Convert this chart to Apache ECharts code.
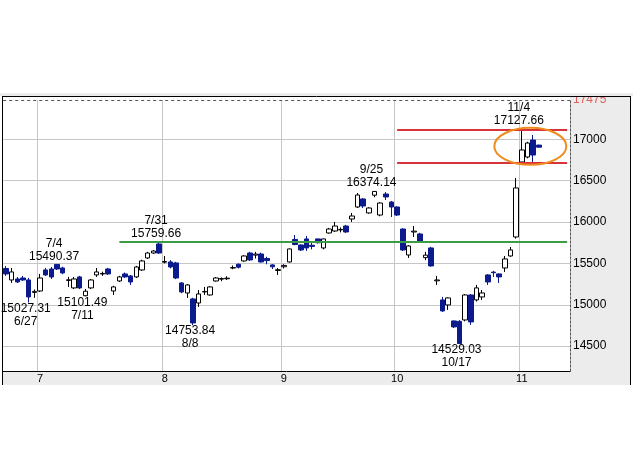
<!DOCTYPE html>
<html>
<head>
<meta charset="utf-8">
<script src="https://cdn.jsdelivr.net/npm/echarts@6/dist/echarts.min.js"></script>
<style>
  html, body { margin: 0; padding: 0; background: #fff; }
  #chart { width: 633px; height: 461px; }
</style>
</head>
<body>
<div id="chart"></div>
<script>
  // trading days (last five are empty slots on the right)
  var dates = [
    '6/23','6/24','6/25','6/26','6/27','6/30',
    '7/1','7/2','7/3','7/4','7/7','7/8','7/9','7/10','7/11','7/14','7/15','7/16','7/17','7/18','7/22','7/23','7/24','7/25','7/28','7/29','7/30','7/31',
    '8/1','8/4','8/5','8/6','8/7','8/8','8/11','8/12','8/13','8/14','8/15','8/18','8/19','8/20','8/21','8/22','8/25','8/26','8/27','8/28','8/29',
    '9/1','9/2','9/3','9/4','9/5','9/8','9/9','9/10','9/11','9/12','9/16','9/17','9/18','9/19','9/22','9/24','9/25','9/26','9/29','9/30',
    '10/1','10/2','10/3','10/6','10/7','10/8','10/9','10/10','10/14','10/15','10/16','10/17','10/20','10/21','10/22','10/23','10/24','10/27','10/28','10/29','10/30','10/31',
    '11/4','11/5','11/6','11/7','11/10','11/11','11/12','11/13','11/14'
  ];

  var opens = [
    15439,15300,15312,15324,15300,15150,
    15167,15421,15433,15488,15445,15295,15204,15337,15110,15204,15361,15372,15433,15167,15288,15373,15349,15337,15421,15566,15626,15735,
    15515,15518,15506,15264,15143,15071,15022,15155,15119,15288,15310,15315,15445,15490,15530,15626,15600,15614,15560,15482,15415,
    15460,15518,15790,15723,15796,15720,15796,15687,15868,15892,15905,15952,16037,16182,16279,16110,16325,16085,16339,16242,
    16182,15916,15602,15880,15856,15570,15687,15290,15059,14998,14805,14800,14817,15119,15059,15095,15361,15395,15373,15445,15590,15820,
    16726,16786,16991,16930
  ];
  var closes = [
    15373,15397,15276,15300,15095,15162,
    15324,15361,15336,15433,15385,15302,15312,15204,15164,15300,15397,15379,15373,15216,15337,15337,15276,15457,15530,15626,15650,15626,
    15523,15457,15324,15155,15240,14781,15131,15161,15216,15324,15318,15322,15449,15454,15590,15542,15613,15518,15534,15459,15424,
    15476,15675,15728,15663,15687,15705,15750,15796,15916,15952,15911,15880,16073,16327,16194,16170,16370,16230,16303,16182,
    16085,15663,15711,15890,15771,15600,15470,15300,14926,15083,14733,14532,15119,14793,15204,15143,15276,15388,15337,15554,15663,16412,
    16871,16955,16810,16905
  ];
  var lows = [
    15349,15264,15264,15288,15027.31,15085,
    15155,15349,15312,15421,15370,15216,15191,15190,15101.49,15191,15337,15350,15360,15119,15275,15325,15240,15325,15410,15555,15615,15615,
    15500,15440,15310,15140,15083,14753.84,14974,15119,15110,15280,15285,15300,15430,15440,15520,15530,15560,15510,15490,15433,15361,
    15440,15510,15720,15650,15651,15670,15740,15670,15860,15880,15875,15870,16001,16170,16170,16100,16300,16070,16267,16061,
    16073,15650,15566,15820,15760,15540,15460,15240,14914,14938,14720,14529.03,14800,14757,15040,15059,15240,15337,15264,15397,15580,15800,
    16714,16770,16726,16900
  ];
  var highs = [
    15469,15445,15336,15349,15324,15185,
    15373,15445,15457,15490.37,15460,15337,15337,15350,15191,15312,15445,15400,15445,15230,15350,15390,15360,15470,15545,15640,15660,15759.66,
    15590,15540,15520,15275,15250,15085,15179,15216,15225,15335,15330,15345,15475,15500,15600,15640,15640,15630,15580,15490,15445,
    15490,15680,15844,15730,15832,15770,15800,15800,15930,16001,15935,15965,16110,16351,16290,16180,16374.14,16240,16363,16255,
    16190,15925,15720,15952,15870,15640,15700,15349,15095,15090,14810,14815,15130,15130,15240,15179,15370,15410,15380,15590,15699,16533,
    17127.66,16970,17052,16935
  ];

  // y axis
  var gridLevels = [14500, 15000, 15500, 16000, 16500, 17000];
  var topLevel = 17475;
  var axisMin = 14200;

  // annotations
  var highMarks = [['7/4', 15490.37], ['7/31', 15759.66], ['9/25', 16374.14], ['11/4', 17127.66]];
  var lowMarks = [['6/27', 15027.31], ['7/11', 15101.49], ['8/8', 14753.84], ['10/17', 14529.03]];
  var greenLevel = 15759.66, greenFrom = '7/22';
  var redLevels = [17120, 16720], redFrom = '10/1';
  var ringDates = ['11/4', '11/7'], ringValue = 16915;

  var FONT = "'Liberation Sans', Arial, sans-serif";
  var NAVY = '#0b1a8c';

  function monthOf(d) { return d.split('/')[0]; }
  function isMonthStart(i) { return i > 0 && monthOf(dates[i]) !== monthOf(dates[i - 1]); }

  var ohlc = dates.map(function (d, i) {
    return i < opens.length ? [opens[i], closes[i], lows[i], highs[i]] : '-';
  });
  var lastDate = dates[dates.length - 1];

  var marks = highMarks.map(function (m) {
    return { coord: m, label: { position: 'top', distance: 1, formatter: m[0] + '\n' + m[1].toFixed(2) } };
  }).concat(lowMarks.map(function (m) {
    return { coord: m, label: { position: 'bottom', distance: -1, formatter: m[1].toFixed(2) + '\n' + m[0] } };
  }));

  var lines = [
    [{ coord: [greenFrom, greenLevel], lineStyle: { color: '#3c9c46', width: 2, type: 'solid' } }, { coord: [lastDate, greenLevel] }]
  ];
  redLevels.forEach(function (v) {
    lines.push([{ coord: [redFrom, v], lineStyle: { color: '#d8333a', width: 2, type: 'solid' } }, { coord: [lastDate, v] }]);
  });
  lines.push({ yAxis: topLevel, lineStyle: { color: '#555', type: [3, 3], width: 1 } });

  var chart = echarts.init(document.getElementById('chart'));
  chart.setOption({
    animation: false,
    grid: { left: 3.2, right: 63, top: 100, bottom: 90 },
    xAxis: {
      type: 'category',
      data: dates,
      boundaryGap: true,
      axisLine: { lineStyle: { color: '#000', width: 1 } },
      axisTick: { show: false },
      axisLabel: {
        interval: function (i) { return isMonthStart(i); },
        formatter: function (v) { return monthOf(v); },
        color: '#000', fontSize: 11, fontFamily: FONT, margin: 2
      },
      splitLine: {
        show: true,
        interval: function (i) { return isMonthStart(i); },
        lineStyle: { color: '#c6c6c6', width: 1 }
      }
    },
    yAxis: {
      type: 'value',
      position: 'right',
      min: axisMin,
      max: topLevel,
      axisLine: { show: true, lineStyle: { color: '#555', type: [2, 2] } },
      axisTick: { show: false, customValues: gridLevels },
      axisLabel: {
        customValues: gridLevels.concat([topLevel]),
        formatter: function (v) { return String(v); },
        color: function (v) { return Number(v) === topLevel ? '#e0605a' : '#000'; },
        fontSize: 12, fontFamily: FONT, margin: 3
      },
      splitLine: { show: true, lineStyle: { color: '#c6c6c6', width: 1 } }
    },
    graphic: [
      { id: 'panelR', type: 'rect', z: -5, shape: { x: 570, y: 96, width: 61, height: 276 }, style: { fill: '#ececec' } },
      { id: 'panelB', type: 'rect', z: -5, shape: { x: 2, y: 372, width: 629, height: 13 }, style: { fill: '#ececec' } },
      { id: 'coverT', type: 'rect', z: 100, shape: { x: 0, y: 0, width: 633, height: 93 }, style: { fill: '#fff' } },
      { id: 'stripT', type: 'rect', z: 100, shape: { x: 0, y: 93, width: 633, height: 3 }, style: { fill: '#ececec' } },
      { id: 'lineT', type: 'line', z: 100, shape: { x1: 2, y1: 96.5, x2: 631, y2: 96.5 }, style: { stroke: '#000', lineWidth: 1 } },
      { id: 'lineL', type: 'line', z: 100, shape: { x1: 2.5, y1: 96, x2: 2.5, y2: 385 }, style: { stroke: '#000', lineWidth: 1 } },
      { id: 'lineR', type: 'line', z: 100, shape: { x1: 630.5, y1: 96, x2: 630.5, y2: 385 }, style: { stroke: '#000', lineWidth: 1 } }
    ],
    series: [{
      type: 'candlestick',
      data: ohlc,
      barWidth: 5,
      itemStyle: {
        color: '#fff', color0: NAVY,
        borderColor: '#000', borderColor0: NAVY, borderWidth: 1
      },
      markLine: {
        silent: true,
        symbol: ['none', 'none'],
        label: { show: false },
        data: lines
      },
      markPoint: {
        silent: true,
        symbol: 'circle',
        symbolSize: 1,
        itemStyle: { color: 'rgba(0,0,0,0)' },
        label: {
          show: true, color: '#000', fontSize: 12, fontFamily: FONT,
          lineHeight: 13, offset: [-3, 0]
        },
        data: marks
      }
    }]
  });

  // orange ring around the last few sessions
  var pa = chart.convertToPixel({ gridIndex: 0 }, [ringDates[0], ringValue]);
  var pb = chart.convertToPixel({ gridIndex: 0 }, [ringDates[1], ringValue]);
  chart.setOption({
    graphic: [{
      id: 'ring', type: 'ellipse', z: 50,
      shape: { cx: (pa[0] + pb[0]) / 2, cy: pa[1], rx: 36, ry: 18.5 },
      style: { fill: 'none', stroke: '#f08c1e', lineWidth: 2 }
    }]
  });
</script>
</body>
</html>
